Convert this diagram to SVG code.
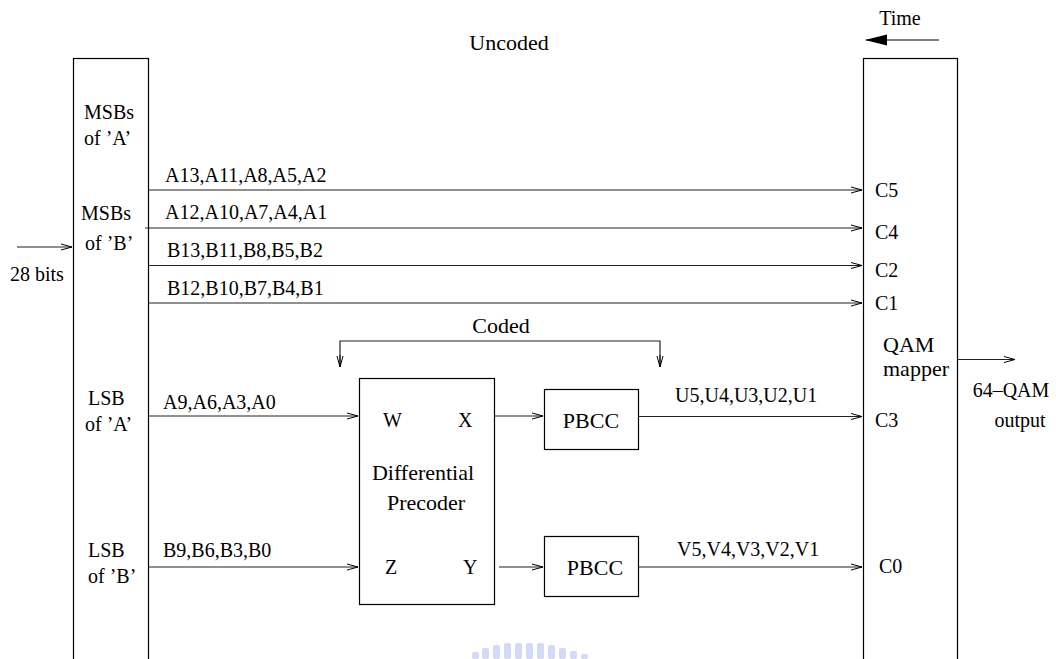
<svg xmlns="http://www.w3.org/2000/svg" width="1056" height="659" viewBox="0 0 1056 659">
<defs>
<marker id="open" markerWidth="12" markerHeight="8" refX="11" refY="4" orient="auto" markerUnits="userSpaceOnUse">
<path d="M0,1 L11,4 L0,7" fill="none" stroke="#000" stroke-width="1"/>
</marker>
<marker id="filled" markerWidth="24" markerHeight="12" refX="21" refY="6" orient="auto" markerUnits="userSpaceOnUse">
<path d="M22,6 L0,0.5 L0,11.5 Z" fill="#000"/>
</marker>
</defs>
<style>
text{font-family:"Liberation Serif","Times New Roman",serif;font-size:20px;fill:#000}
.big{font-size:22px}
.box{fill:#fff;stroke:#000;stroke-width:1.2}
.ln{fill:none;stroke:#222;stroke-width:1.2}
.arr{fill:none;stroke:#222;stroke-width:1.2;marker-end:url(#open)}
.wm{fill:#a9b3ef;opacity:0.5}
</style>
<rect width="1056" height="659" fill="#fff"/>

<g id="watermark">
<rect class="wm" x="472" y="652" width="7" height="7" rx="2"/>
<rect class="wm" x="482" y="648" width="7" height="11" rx="2"/>
<rect class="wm" x="493" y="645" width="7" height="14" rx="2"/>
<rect class="wm" x="504" y="643" width="7" height="16" rx="2"/>
<rect class="wm" x="515" y="643" width="7" height="16" rx="2"/>
<rect class="wm" x="526" y="643" width="7" height="16" rx="2"/>
<rect class="wm" x="537" y="643" width="7" height="16" rx="2"/>
<rect class="wm" x="548" y="645" width="7" height="14" rx="2"/>
<rect class="wm" x="559" y="648" width="7" height="11" rx="2"/>
<rect class="wm" x="570" y="651" width="7" height="8" rx="2"/>
<rect class="wm" x="581" y="654" width="7" height="5" rx="2"/>
</g>

<g id="source">
<rect class="box" x="73.5" y="58.5" width="75" height="620"/>
<text x="84" y="119">MSBs</text>
<text x="84" y="145">of ’A’</text>
<text x="81" y="220">MSBs</text>
<text x="85" y="250">of ’B’</text>
<text x="88" y="405">LSB</text>
<text x="85" y="431">of ’A’</text>
<text x="88" y="557">LSB</text>
<text x="88" y="583">of ’B’</text>
</g>

<g id="qam">
<rect class="box" x="863.5" y="58.5" width="94" height="620"/>
<text x="875" y="197">C5</text>
<text x="875" y="239">C4</text>
<text x="875" y="277">C2</text>
<text x="875" y="310">C1</text>
<text class="big" x="883" y="352">QAM</text>
<text class="big" x="883" y="376">mapper</text>
<text x="875" y="427">C3</text>
<text x="879" y="573">C0</text>
</g>

<g id="precoder">
<rect class="box" x="359.5" y="378.5" width="135" height="226"/>
<text x="383" y="427">W</text>
<text x="458" y="427">X</text>
<text class="big" x="423" y="480" text-anchor="middle">Differential</text>
<text class="big" x="426" y="510" text-anchor="middle">Precoder</text>
<text x="385" y="574">Z</text>
<text x="463" y="574">Y</text>
</g>

<g id="pbcc1">
<rect class="box" x="544.5" y="389.5" width="94" height="60"/>
<text class="big" x="591" y="428" text-anchor="middle">PBCC</text>
</g>
<g id="pbcc2">
<rect class="box" x="544.5" y="536.5" width="94" height="60"/>
<text class="big" x="595" y="575" text-anchor="middle">PBCC</text>
</g>

<g id="labels">
<text x="900" y="25" text-anchor="middle">Time</text>
<text x="509" y="50" text-anchor="middle" class="big">Uncoded</text>
<text x="501" y="333" text-anchor="middle" class="big">Coded</text>
<text x="10" y="281">28 bits</text>
<text x="165" y="182">A13,A11,A8,A5,A2</text>
<text x="165" y="219">A12,A10,A7,A4,A1</text>
<text x="167" y="257">B13,B11,B8,B5,B2</text>
<text x="167" y="295">B12,B10,B7,B4,B1</text>
<text x="163" y="409">A9,A6,A3,A0</text>
<text x="163" y="557">B9,B6,B3,B0</text>
<text x="675" y="402">U5,U4,U3,U2,U1</text>
<text x="677" y="556">V5,V4,V3,V2,V1</text>
<text x="1011" y="397" text-anchor="middle">64–QAM</text>
<text x="1020" y="427" text-anchor="middle">output</text>
</g>

<g id="connectors">
<line x1="939" y1="40" x2="866" y2="40" stroke="#000" stroke-width="1.2" marker-end="url(#filled)"/>
<line class="arr" x1="17" y1="247" x2="72" y2="247"/>
<line class="arr" x1="149" y1="190" x2="862" y2="190"/>
<line class="arr" x1="145" y1="228" x2="862" y2="228"/>
<line class="arr" x1="149" y1="265.5" x2="862" y2="265.5"/>
<line class="arr" x1="149" y1="303" x2="862" y2="303"/>
<polyline class="ln" points="340,366 340,341 660,341 660,366"/>
<line class="arr" x1="340" y1="355" x2="340" y2="367"/>
<line class="arr" x1="660" y1="355" x2="660" y2="367"/>
<line class="arr" x1="149" y1="416" x2="358" y2="416"/>
<line class="arr" x1="149" y1="567" x2="358" y2="567"/>
<line class="arr" x1="495" y1="416" x2="543" y2="416"/>
<line class="arr" x1="499" y1="567" x2="543" y2="567"/>
<line class="arr" x1="638" y1="416.5" x2="862" y2="416.5"/>
<line class="arr" x1="638" y1="567" x2="862" y2="567"/>
<line class="arr" x1="958" y1="359.5" x2="1015" y2="359.5"/>
</g>
</svg>
